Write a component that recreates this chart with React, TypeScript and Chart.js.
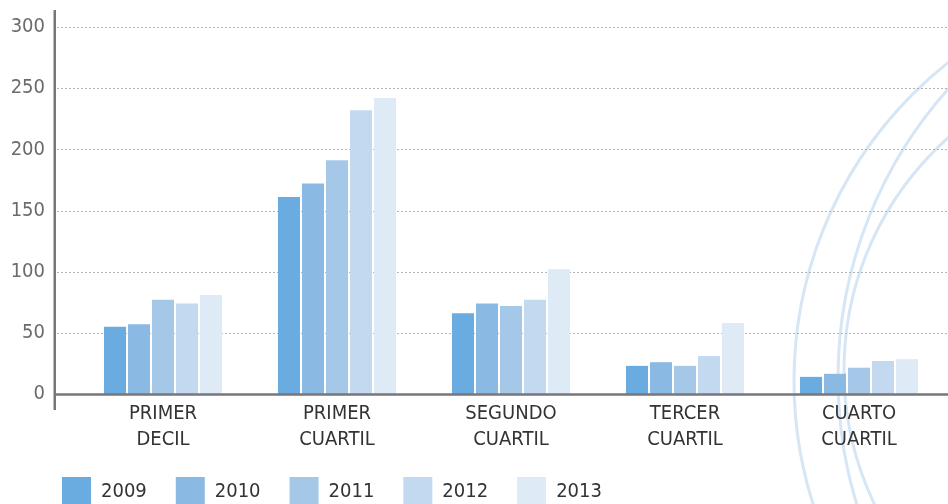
import React, { useEffect, useRef } from "react";
import { Chart, registerables } from "chart.js";

Chart.register(...registerables);

const categories: string[][] = [
  ["PRIMER", "DECIL"],
  ["PRIMER", "CUARTIL"],
  ["SEGUNDO", "CUARTIL"],
  ["TERCER", "CUARTIL"],
  ["CUARTO", "CUARTIL"],
];
const years = ["2009", "2010", "2011", "2012", "2013"];
const values2009 = [55, 161, 66, 23, 14];
const values2010 = [57, 172, 74, 26, 16.5];
const values2011 = [77, 191, 72, 23, 21.5];
const values2012 = [74, 232, 77, 31, 27];
const values2013 = [81, 242, 102, 58, 28.5];
const seriesColors = ["#6aacdf", "#8abae3", "#a6c8e8", "#c2d9ef", "#deeaf6"];
const yTickMin = 0;
const yTickMax = 300;
const yTickStep = 50;

const FONT = "'DejaVu Sans Condensed', 'DejaVu Sans', sans-serif";

const decorPlugin = {
  id: "decor",
  afterLayout(chart: any) {
    if (chart.legend) {
      chart.legend.left = 33;
    }
  },
  beforeDraw(chart: any) {
    const ctx = chart.ctx;
    ctx.save();
    ctx.strokeStyle = "#d6e6f5";
    ctx.lineWidth = 3;
    const arcs = [
      [1200, 381, 406],
      [1272, 378, 434],
      [1155, 370, 311],
    ];
    for (const [cx, cy, r] of arcs) {
      ctx.beginPath();
      ctx.arc(cx, cy, r, 0, Math.PI * 2);
      ctx.stroke();
    }
    ctx.restore();
  },
  beforeDatasetsDraw(chart: any) {
    const ctx = chart.ctx;
    const y = chart.scales.y;
    ctx.save();
    ctx.strokeStyle = "#b3b3b3";
    ctx.lineWidth = 1;
    ctx.setLineDash([2, 2]);
    for (const t of y.ticks) {
      if (t.value === 0) continue;
      const py = Math.round(y.getPixelForValue(t.value)) + 0.5;
      ctx.beginPath();
      ctx.moveTo(57, py);
      ctx.lineTo(chart.width, py);
      ctx.stroke();
    }
    ctx.restore();
  },
  afterDatasetsDraw(chart: any) {
    const ctx = chart.ctx;
    const y = chart.scales.y;
    const zero = y.getPixelForValue(0);
    ctx.save();
    ctx.strokeStyle = "#77777b";
    ctx.lineWidth = 2.5;
    ctx.beginPath();
    ctx.moveTo(54.75, 10);
    ctx.lineTo(54.75, zero + 16);
    ctx.stroke();
    ctx.beginPath();
    ctx.moveTo(54, zero + 0.5);
    ctx.lineTo(chart.width, zero + 0.5);
    ctx.stroke();
    ctx.restore();
  },
};

export default function App() {
  const ref = useRef<HTMLCanvasElement>(null);
  useEffect(() => {
    if (!ref.current) return;
    const all = [values2009, values2010, values2011, values2012, values2013];
    const chart = new Chart(ref.current, {
      type: "bar",
      data: {
        labels: categories,
        datasets: years.map((yr, i) => ({
          label: yr,
          data: all[i],
          backgroundColor: seriesColors[i],
          borderWidth: 0,
          categoryPercentage: 0.69,
          barPercentage: 0.917,
        })),
      },
      options: {
        animation: false,
        responsive: true,
        maintainAspectRatio: false,
        layout: { padding: { left: 0, right: 2, top: 27, bottom: 0 } },
        plugins: {
          tooltip: { enabled: false },
          legend: {
            position: "bottom",
            align: "start",
            labels: {
              boxWidth: 29,
              boxHeight: 30,
              padding: 29,
              color: "#333333",
              font: { family: FONT, size: 20 },
            },
          },
        },
        scales: {
          x: {
            grid: { display: false, drawTicks: false },
            border: { display: false },
            ticks: {
              autoSkip: false,
              maxRotation: 0,
              padding: 7,
              color: "#333333",
              font: { family: FONT, size: 20, lineHeight: 1.3 },
            },
            afterFit: (s: any) => {
              s.height = 54;
            },
          },
          y: {
            min: yTickMin,
            max: yTickMax,
            grid: { display: false, drawTicks: false },
            border: { display: false },
            ticks: {
              stepSize: yTickStep,
              padding: 31,
              color: "#6b6b6b",
              font: { family: FONT, size: 20 },
            },
            afterFit: (s: any) => {
              s.width = 76;
              s.paddingTop = 0;
              s.paddingBottom = 0;
            },
          },
        },
      },
      plugins: [decorPlugin],
    });
    return () => chart.destroy();
  }, []);
  return (
    <div style={{ position: "fixed", left: 0, top: 0, width: 948, height: 517 }}>
      <canvas ref={ref} />
    </div>
  );
}
